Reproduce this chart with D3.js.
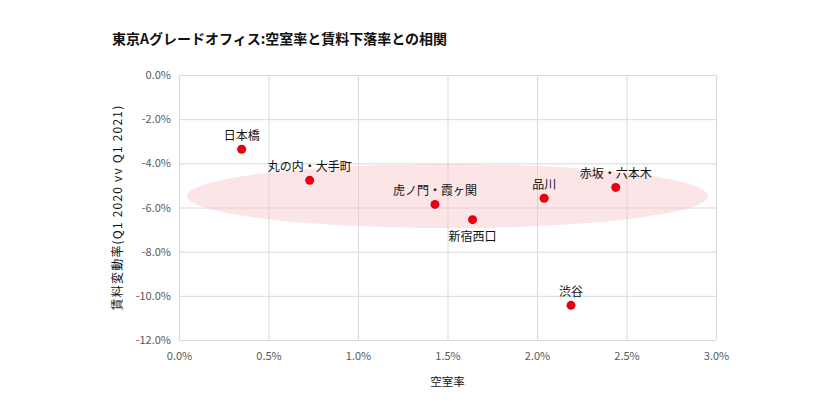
<!DOCTYPE html>
<html>
<head>
<meta charset="utf-8">
<script src="https://cdn.jsdelivr.net/npm/d3@7"></script>
<style>
  body{margin:0;background:#fff;font-family:"Noto Sans CJK JP","Noto Sans",sans-serif;}
  .tick text{fill:#595959;font-size:11px;font-family:"Noto Sans CJK JP","Noto Sans",sans-serif;}
  .grid line{stroke:#d9d9d9;stroke-width:1;}
</style>
</head>
<body>
<svg id="chart" width="833" height="417"></svg>
<script>
/* ===== Data ===== */
const areas   = ['日本橋','丸の内・大手町','虎ノ門・霞ヶ関','新宿西口','品川','赤坂・六本木','渋谷'];
const vacancy = [0.0035, 0.0073, 0.0143, 0.0164, 0.0204, 0.0244, 0.0219];
const rentChg = [-0.0336, -0.0477, -0.0586, -0.0655, -0.0558, -0.0509, -0.1043];
const labelBelow = ['新宿西口'];
const xTicks = [0, 0.005, 0.01, 0.015, 0.02, 0.025, 0.03];
const yTicks = [0, -0.02, -0.04, -0.06, -0.08, -0.10, -0.12];
// highlighted cluster (centre / radii in data units)
const cluster = {cx:0.0150, cy:-0.0548, rx:0.01455, ry:0.0145};

/* ===== Chart ===== */
const svg = d3.select('#chart');
const m = {t:75, r:117, b:77, l:179};
const w = 833, h = 417;
const innerW = w-m.l-m.r, innerH = h-m.t-m.b;
const g = svg.append('g').attr('transform',`translate(${m.l},${m.t})`);

const x = d3.scaleLinear().domain([0,0.03]).range([0,innerW]);
const y = d3.scaleLinear().domain([-0.12,0]).range([innerH,0]);
const pct = v => d3.format('.1%')(v).replace('−','-');

// grid + axes
g.append('g').attr('class','grid').attr('transform',`translate(0,${innerH})`)
  .call(d3.axisBottom(x).tickValues(xTicks).tickFormat(pct).tickSize(-innerH).tickPadding(12))
  .call(a=>a.select('.domain').remove());
g.append('g').attr('class','grid')
  .call(d3.axisLeft(y).tickValues(yTicks).tickFormat(pct).tickSize(-innerW).tickPadding(8))
  .call(a=>a.select('.domain').remove());

// cluster ellipse
g.append('ellipse')
  .attr('cx',x(cluster.cx)).attr('cy',y(cluster.cy))
  .attr('rx',x(cluster.rx)-x(0)).attr('ry',y(0)-y(cluster.ry))
  .attr('fill','#f7c5c9').attr('fill-opacity',0.45);

// points
const data = areas.map((a,i)=>({name:a, vx:vacancy[i], vy:rentChg[i]}));
g.selectAll('circle.pt').data(data).enter().append('circle').attr('class','pt')
  .attr('cx',d=>x(d.vx)).attr('cy',d=>y(d.vy)).attr('r',4.5).attr('fill','#e60012');
g.selectAll('text.lbl').data(data).enter().append('text').attr('class','lbl')
  .attr('x',d=>x(d.vx)).attr('y',d=>y(d.vy) + (labelBelow.includes(d.name)? 21 : -9))
  .attr('text-anchor','middle').attr('font-size',12).attr('fill','#111')
  .text(d=>d.name);

// titles
svg.append('text').attr('x',112).attr('y',44).attr('font-size',14).attr('font-weight','bold')
  .attr('fill','#111').text('東京Aグレードオフィス:空室率と賃料下落率との相関');
svg.append('text').attr('x',m.l+innerW/2).attr('y',386).attr('text-anchor','middle')
  .attr('font-size',11.5).attr('fill','#111').text('空室率');
svg.append('text').attr('transform',`translate(122,${m.t+innerH/2}) rotate(-90)`)
  .attr('text-anchor','middle').attr('font-size',12).attr('letter-spacing',1.2).attr('fill','#111')
  .text('賃料変動率(Q1 2020 vv Q1 2021)');
</script>
</body>
</html>
